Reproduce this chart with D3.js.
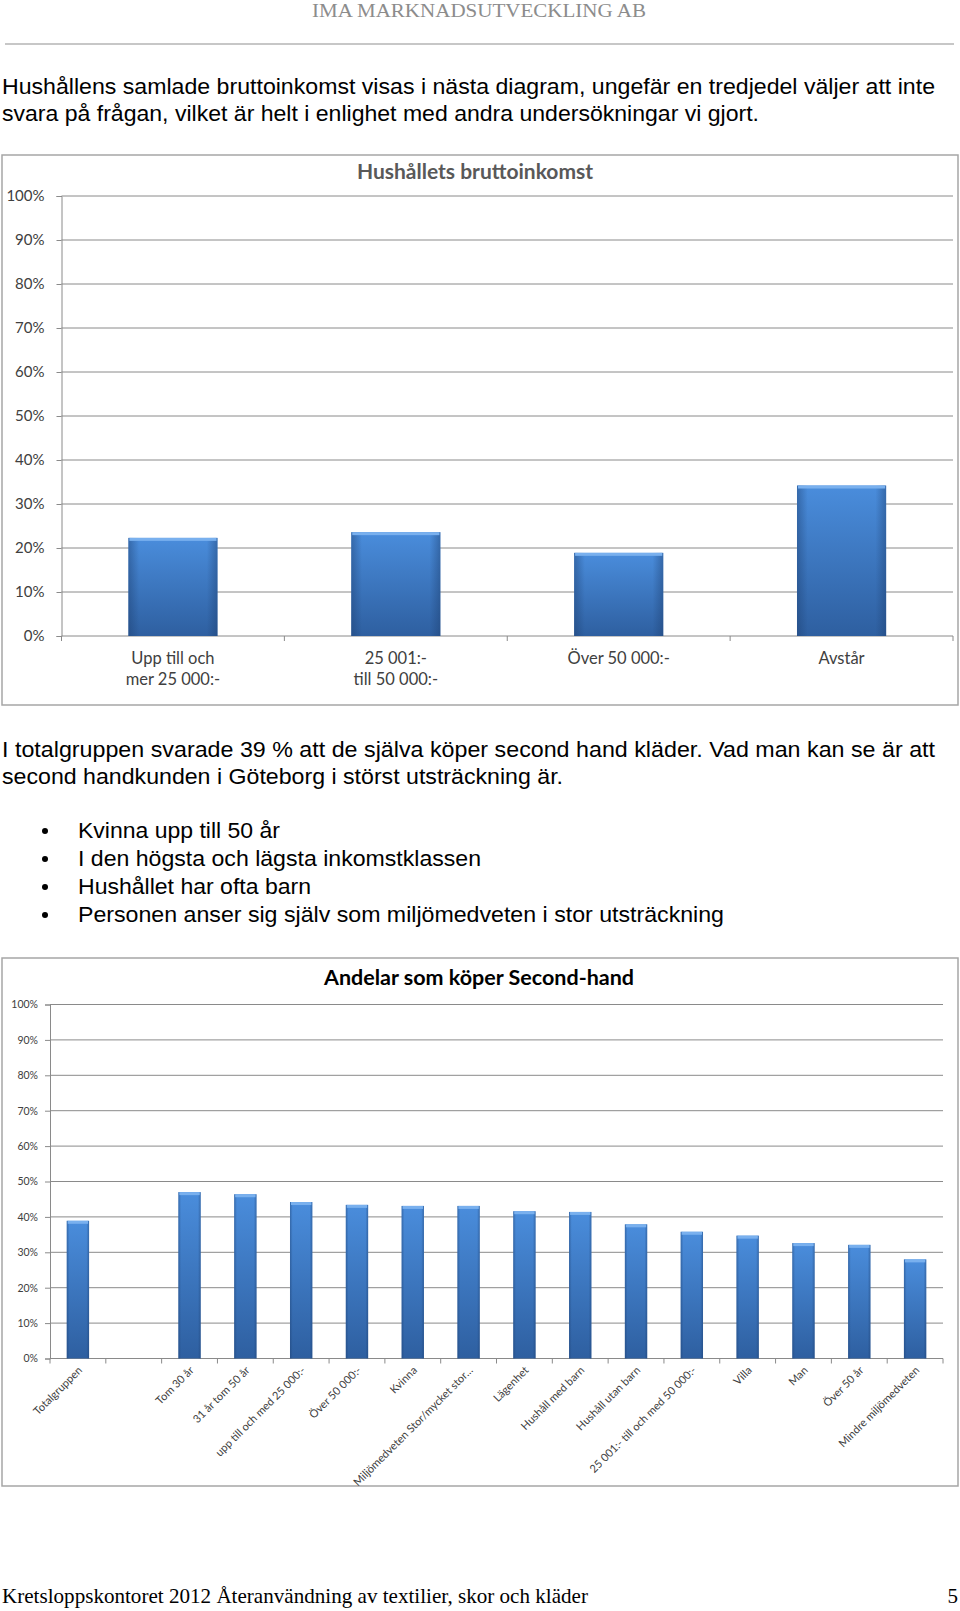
<!DOCTYPE html>
<html>
<head>
<meta charset="utf-8">
<script src="https://cdn.jsdelivr.net/npm/d3@7"></script>
<style>
  body { margin: 0; background: #fff; }
  svg { display: block; }
</style>
</head>
<body>
<div id="page"></div>
<script>
// chart 1: household gross income
const incomeCategories = [["Upp till och", "mer 25 000:-"], ["25 001:-", "till 50 000:-"], ["Över 50 000:-"], ["Avstår"]]
const incomeValues = [22.3, 23.6, 18.9, 34.2]

// chart 2: share buying second hand
const shCategories = ["Totalgruppen", "", "Tom 30 år", "31 år tom 50 år", "upp till och med 25 000:-", "Över 50 000:-",
  "Kvinna", "Miljömedveten Stor/mycket stor…", "Lägenhet", "Hushåll med barn", "Hushåll utan barn",
  "25 001:- till och med 50 000:-", "Villa", "Man", "Över 50 år", "Mindre miljömedveten"]
const shValues = [38.9, null, 47.0, 46.4, 44.2, 43.4, 43.1, 43.1, 41.6, 41.4, 37.9, 35.8, 34.7, 32.6, 32.1, 28.0]

const yTicks = [0, 10, 20, 30, 40, 50, 60, 70, 80, 90, 100]

const para1 = ["Hushållens samlade bruttoinkomst visas i nästa diagram, ungefär en tredjedel väljer att inte",
  "svara på frågan, vilket är helt i enlighet med andra undersökningar vi gjort."]
const para2 = ["I totalgruppen svarade 39 % att de själva köper second hand kläder. Vad man kan se är att",
  "second handkunden i Göteborg i störst utsträckning är."]
const bullets = ["Kvinna upp till 50 år", "I den högsta och lägsta inkomstklassen", "Hushållet har ofta barn",
  "Personen anser sig själv som miljömedveten i stor utsträckning"]

const W = 960, H = 1611
const svg = d3.select('#page').append('svg').attr('width', W).attr('height', H)

// bar gradients
const defs = svg.append('defs')
let vg = defs.append('linearGradient').attr('id', 'barV').attr('x1', 0).attr('y1', 0).attr('x2', 0).attr('y2', 1)
vg.append('stop').attr('offset', '0%').attr('stop-color', '#4a8ddc')
vg.append('stop').attr('offset', '100%').attr('stop-color', '#2e5fa0')
let hg = defs.append('linearGradient').attr('id', 'barH').attr('x1', 0).attr('y1', 0).attr('x2', 1).attr('y2', 0)
hg.append('stop').attr('offset', '0%').attr('stop-color', '#1d3f70').attr('stop-opacity', 0.45)
hg.append('stop').attr('offset', '12%').attr('stop-color', '#1d3f70').attr('stop-opacity', 0)
hg.append('stop').attr('offset', '88%').attr('stop-color', '#1d3f70').attr('stop-opacity', 0)
hg.append('stop').attr('offset', '100%').attr('stop-color', '#1d3f70').attr('stop-opacity', 0.45)

const bodyFont = "'Liberation Sans', Arial, sans-serif"
const serifFont = "'Liberation Serif', 'Times New Roman', serif"
const chartFont = "Lato, 'Open Sans', sans-serif"

// header
svg.append('text').attr('x', 479).attr('y', 17).attr('text-anchor', 'middle')
  .attr('font-family', serifFont).attr('font-size', 19).attr('fill', '#8c8c8c')
  .attr('textLength', 334).attr('lengthAdjust', 'spacingAndGlyphs')
  .text('IMA MARKNADSUTVECKLING AB')
svg.append('line').attr('x1', 5).attr('x2', 954).attr('y1', 44).attr('y2', 44)
  .attr('stroke', '#b4b4b4').attr('stroke-width', 1.5)

function textLines(lines, x, y0, step, widths){
  lines.forEach((t, i) => {
    svg.append('text').attr('x', x).attr('y', y0 + i * step)
      .attr('font-family', bodyFont).attr('font-size', 22).attr('fill', '#000')
      .attr('textLength', widths[i]).attr('lengthAdjust', 'spacingAndGlyphs')
      .text(t)
  })
}

textLines(para1, 2, 94, 26.8, [933, 757])
textLines(para2, 2, 757, 26.8, [933, 561])

bullets.forEach((t, i) => {
  let y = 838 + i * 28
  svg.append('circle').attr('cx', 45).attr('cy', y - 7).attr('r', 3).attr('fill', '#000')
})
textLines(bullets, 78, 838, 28, [202, 403, 233, 646])

// footer
svg.append('text').attr('x', 2).attr('y', 1603)
  .attr('font-family', serifFont).attr('font-size', 21).attr('fill', '#000')
  .attr('textLength', 586).attr('lengthAdjust', 'spacingAndGlyphs')
  .text('Kretsloppskontoret 2012 Återanvändning av textilier, skor och kläder')
svg.append('text').attr('x', 958).attr('y', 1603).attr('text-anchor', 'end')
  .attr('font-family', serifFont).attr('font-size', 21).attr('fill', '#000')
  .text('5')

function drawBars(g, cats, vals, x, y){
  let bw = x.bandwidth()
  let items = cats.map((c, i) => ({ cat: i, v: vals[i] })).filter(d => d.v != null)
  let bars = g.append('g').selectAll('g').data(items).join('g')
  bars.append('rect')
    .attr('x', d => x(d.cat)).attr('y', d => y(d.v))
    .attr('width', bw).attr('height', d => y(0) - y(d.v))
    .attr('fill', 'url(#barV)')
  bars.append('rect')
    .attr('x', d => x(d.cat)).attr('y', d => y(d.v))
    .attr('width', bw).attr('height', d => y(0) - y(d.v))
    .attr('fill', 'url(#barH)')
  bars.append('rect')
    .attr('x', d => x(d.cat) + 1).attr('y', d => y(d.v))
    .attr('width', bw - 2).attr('height', 3)
    .attr('fill', '#79b0ee')
}

function drawChart(opt){
  let g = svg.append('g')
  g.append('rect').attr('x', opt.frame[0]).attr('y', opt.frame[1])
    .attr('width', opt.frame[2]).attr('height', opt.frame[3])
    .attr('fill', '#fff').attr('stroke', '#a6a6a6').attr('stroke-width', 1.5)

  g.append('text').attr('x', opt.titleX).attr('y', opt.titleY).attr('text-anchor', 'middle')
    .attr('font-family', chartFont).attr('font-weight', 'bold').attr('font-size', opt.titleSize)
    .attr('fill', opt.titleColor).text(opt.title)

  let y = d3.scaleLinear().domain([0, 100]).range([opt.bottom, opt.top])
  let x = d3.scaleBand().domain(d3.range(opt.cats.length)).range([opt.left, opt.right])
    .paddingInner(0.6).paddingOuter(0.3)
  let xt = d3.scaleBand().domain(d3.range(opt.cats.length)).range([opt.left, opt.right])

  // gridlines
  g.append('g').selectAll('line').data(yTicks.slice(1)).join('line')
    .attr('x1', opt.left).attr('x2', opt.right)
    .attr('y1', d => y(d)).attr('y2', d => y(d))
    .attr('stroke', '#8a8a8a').attr('stroke-width', 1)

  let yAxis = g.append('g').attr('transform', `translate(${opt.left},0)`)
    .call(d3.axisLeft(y).tickValues(yTicks).tickSize(5).tickPadding(opt.tickPad).tickFormat(d => d + '%'))
  yAxis.select('.domain').attr('stroke', '#8a8a8a')
  yAxis.selectAll('.tick line').attr('stroke', '#8a8a8a')
  yAxis.selectAll('text').attr('font-family', chartFont).attr('font-size', opt.tickSize).attr('fill', '#404040')

  // x axis with ticks between categories
  let xAxis = g.append('g').attr('transform', `translate(0,${opt.bottom})`)
  xAxis.append('line').attr('x1', opt.left).attr('x2', opt.right).attr('stroke', '#8a8a8a')
  xAxis.selectAll('.tk').data(d3.range(opt.cats.length + 1)).join('line').attr('class', 'tk')
    .attr('x1', d => d < opt.cats.length ? xt(d) : opt.right)
    .attr('x2', d => d < opt.cats.length ? xt(d) : opt.right)
    .attr('y1', 0).attr('y2', 5).attr('stroke', '#8a8a8a')

  drawBars(g, opt.cats, opt.vals, x, y)

  return { g, xt, y }
}

// chart 1
let c1 = drawChart({
  frame: [2, 155, 956, 550], title: 'Hushållets bruttoinkomst', titleX: 475, titleY: 179,
  titleSize: 21, titleColor: '#595959',
  left: 61.5, right: 953, top: 196, bottom: 636,
  cats: incomeCategories, vals: incomeValues, tickSize: 15, tickPad: 12
})
c1.g.append('g').selectAll('text').data(incomeCategories).join('text')
  .attr('text-anchor', 'middle').attr('font-family', chartFont).attr('font-size', 16.5).attr('fill', '#404040')
  .attr('x', (d, i) => c1.xt(i) + c1.xt.bandwidth() / 2)
  .attr('y', 664)
  .selectAll('tspan').data(d => d).join('tspan')
  .attr('x', function(){ return d3.select(this.parentNode).attr('x') })
  .attr('dy', (d, i) => i ? 20.5 : 0)
  .text(d => d)

// chart 2
let c2 = drawChart({
  frame: [2, 958, 956, 528], title: 'Andelar som köper Second-hand', titleX: 479, titleY: 985,
  titleSize: 21.5, titleColor: '#000',
  left: 50, right: 943, top: 1004.5, bottom: 1358.5,
  cats: shCategories, vals: shValues, tickSize: 10.5, tickPad: 7
})
c2.g.append('g').selectAll('text').data(shCategories).join('text')
  .attr('text-anchor', 'end').attr('font-family', chartFont).attr('font-size', 11).attr('fill', '#404040')
  .attr('transform', (d, i) => `translate(${c2.xt(i) + c2.xt.bandwidth() / 2 + 5},${1371}) rotate(-45)`)
  .text(d => d)
</script>
</body>
</html>
